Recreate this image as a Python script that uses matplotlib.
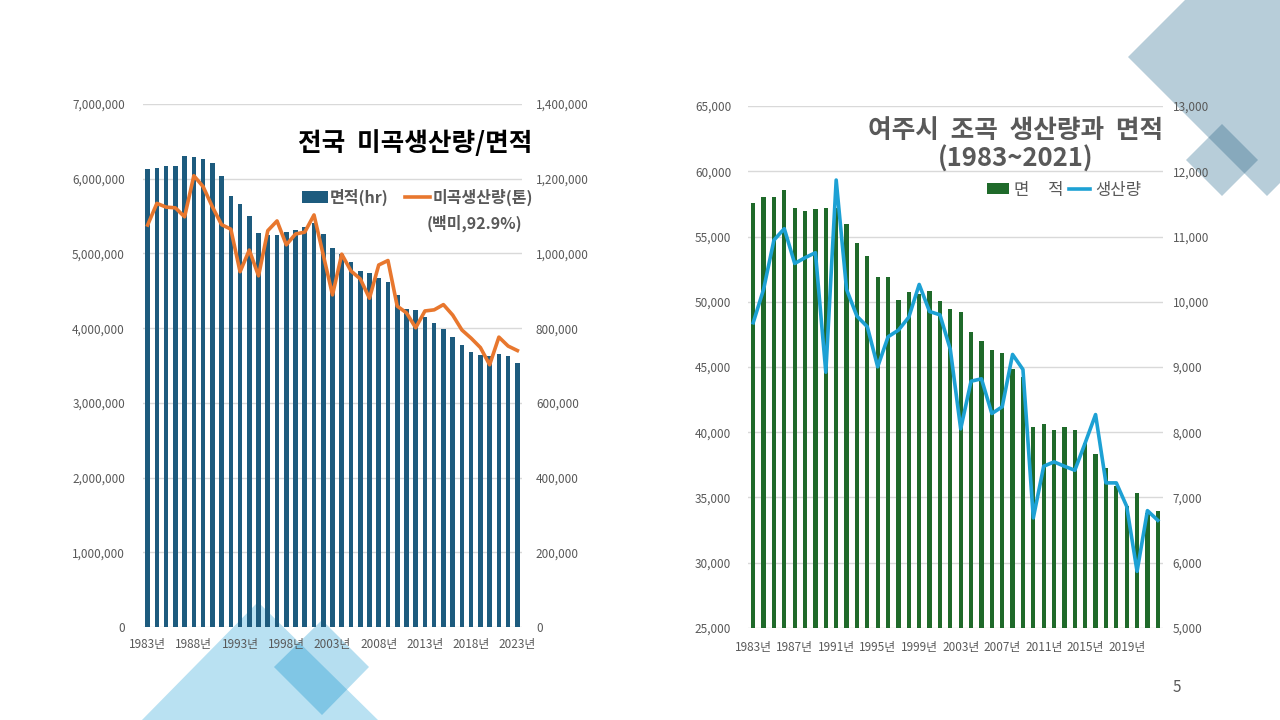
import matplotlib
matplotlib.use("Agg")
import matplotlib.pyplot as plt
from matplotlib.patches import Polygon
from matplotlib.ticker import FuncFormatter

plt.rcParams['font.family'] = ['Noto Sans CJK KR', 'DejaVu Sans']

# ---------------- data ----------------
nat_years = list(range(1983, 2024))
nat_area = [6130000, 6140000, 6170000, 6170000, 6300000, 6290000, 6260000, 6210000,
            6040000, 5770000, 5660000, 5500000, 5280000, 5240000, 5250000, 5290000,
            5310000, 5360000, 5410000, 5260000, 5070000, 4990000, 4890000, 4770000,
            4740000, 4670000, 4620000, 4450000, 4260000, 4240000, 4150000, 4070000,
            3990000, 3880000, 3770000, 3680000, 3640000, 3630000, 3660000, 3630000,
            3530000]
nat_prod = [1076000, 1134000, 1124000, 1122000, 1098000, 1208000, 1179000, 1125000,
            1077000, 1065000, 951000, 1009000, 940000, 1061000, 1087000, 1023000,
            1052000, 1057000, 1103000, 996000, 889000, 998000, 953000, 932000,
            880000, 969000, 981000, 859000, 841000, 801000, 846000, 849000,
            863000, 835000, 795000, 773000, 748000, 702000, 776000, 752000,
            740000]
nat_tick_labels = ['1983년', '1988년', '1993년', '1998년', '2003년', '2008년',
                   '2013년', '2018년', '2023년']

yj_years = list(range(1983, 2023))
yj_area = [57540, 58000, 58000, 58540, 57180, 56930, 57080, 57160, 57160, 55930,
           54470, 53470, 51860, 51920, 50120, 50740, 50560, 50810, 50040, 49410,
           49200, 47720, 47030, 46340, 46060, 44810, 44250, 40440, 40670, 40210,
           40440, 40210, 39190, 38370, 37270, 35860, 34320, 35370, 33820, 33940]
yj_prod = [9678, 10189, 10945, 11120, 10587, 10675, 10752, 8920, 11865, 10189,
           9779, 9617, 9003, 9463, 9565, 9764, 10265, 9850, 9800, 9270,
           8052, 8782, 8819, 8287, 8390, 9192, 8962, 6687, 7479, 7546,
           7479, 7417, 7837, 8271, 7224, 7224, 6865, 5868, 6799, 6650]
yj_tick_labels = ['1983년', '1987년', '1991년', '1995년', '1999년', '2003년',
                  '2007년', '2011년', '2015년', '2019년']

# ---------------- styles ----------------
W, H = 1280, 720
TXT = '#595959'
GRID = '#D9D9D9'
BAR1 = '#1D5B7E'
LINE1 = '#E8772E'
BAR2 = '#1F6A2A'
LINE2 = '#1DA1D4'

fig = plt.figure(figsize=(12.8, 7.2), dpi=100)
fig.patch.set_facecolor('white')

# ---------------- background decorations ----------------
bg = fig.add_axes([0, 0, 1, 1], zorder=0)
bg.set_xlim(0, W)
bg.set_ylim(H, 0)
bg.axis('off')

tri = Polygon([(258, 602), (140, 722), (380, 722)], closed=True,
              facecolor='#B9E1F2', edgecolor='none')
bg.add_patch(tri)
dia = Polygon([(322, 620), (369, 667), (322, 715), (274, 667)], closed=True,
              facecolor='#B5DEF0', edgecolor='none')
bg.add_patch(dia)
dia2 = Polygon([(322, 620), (369, 667), (322, 715), (274, 667)], closed=True,
               facecolor='#80C6E5', edgecolor='none')
bg.add_patch(dia2)
dia2.set_clip_path(tri)

big = Polygon([(1128, 57), (1267, -82), (1406, 57), (1267, 196)], closed=True,
              facecolor='#B7CDD9', edgecolor='none')
bg.add_patch(big)
small = Polygon([(1222, 124), (1258, 160), (1222, 196), (1186, 160)], closed=True,
                facecolor='#B7CDD9', edgecolor='none')
bg.add_patch(small)
small2 = Polygon([(1222, 124), (1258, 160), (1222, 196), (1186, 160)], closed=True,
                 facecolor='#87A9BC', edgecolor='none')
bg.add_patch(small2)
small2.set_clip_path(big)

fig.text(1177 / W, 1 - 688 / H, '5', ha='center', va='center', fontsize=11, color=TXT)


def fmt(v, p):
    return f'{int(round(v)):,}'


def style(ax, ax2):
    for a in (ax, ax2):
        for s in a.spines.values():
            s.set_visible(False)
        a.tick_params(length=0, labelsize=8.5, labelcolor=TXT)
    ax.yaxis.grid(True, color=GRID, linewidth=1)
    ax.set_axisbelow(True)
    ax.yaxis.set_major_formatter(FuncFormatter(fmt))
    ax2.yaxis.set_major_formatter(FuncFormatter(fmt))
    ax.set_facecolor('none')
    ax2.set_facecolor('none')


# ---------------- left chart ----------------
axL = fig.add_axes([143 / W, 1 - 627 / H, (522 - 143) / W, (627 - 104) / H], zorder=2)
axL2 = axL.twinx()
axL2.set_zorder(3)
xL = list(range(len(nat_years)))
barsL = axL.bar(xL, nat_area, width=0.5, color=BAR1, label='면적(hr)')
lineL, = axL2.plot(xL, nat_prod, color=LINE1, linewidth=2.6, label='미곡생산량(톤)',
                   solid_joinstyle='round')
axL.set_xlim(-0.5, len(nat_years) - 0.5)
axL.set_ylim(0, 7000000)
axL.set_yticks(range(0, 7000001, 1000000))
axL2.set_ylim(0, 1400000)
axL2.set_yticks(range(0, 1400001, 200000))
axL.set_xticks(xL[::5])
axL.set_xticklabels(nat_tick_labels)
style(axL, axL2)
axL.tick_params(axis='y', pad=13)
axL2.tick_params(axis='y', pad=10)
axL.tick_params(axis='x', pad=8)

fig.text(415 / W, 1 - 143 / H, '전국  미곡생산량/면적', ha='center', va='center',
         fontsize=18.5, fontweight='bold', color='black')
legL = axL2.legend(handles=[barsL, lineL], loc='center left',
                   bbox_to_anchor=(294 / W, 1 - 197 / H), bbox_transform=fig.transFigure,
                   ncol=2, frameon=False, borderpad=0, handlelength=1.6,
                   handleheight=0.75, handletextpad=0.15, columnspacing=1.0,
                   prop={'size': 11.5, 'weight': 'bold'})
for t in legL.get_texts():
    t.set_color(TXT)
fig.text(522 / W, 1 - 223 / H, '(백미,92.9%)', ha='right', va='center',
         fontsize=11.5, fontweight='bold', color=TXT)

# ---------------- right chart ----------------
axR = fig.add_axes([748 / W, 1 - 628 / H, (1163 - 748) / W, (628 - 106) / H], zorder=2)
axR2 = axR.twinx()
axR2.set_zorder(3)
xR = list(range(len(yj_years)))
barsR = axR.bar(xR, yj_area, width=0.4, color=BAR2, label='면     적')
lineR, = axR2.plot(xR, yj_prod, color=LINE2, linewidth=2.6, label='생산량',
                   solid_joinstyle='round')
axR.set_xlim(-0.5, len(yj_years) - 0.5)
axR.set_ylim(25000, 65000)
axR.set_yticks(range(25000, 65001, 5000))
axR2.set_ylim(5000, 13000)
axR2.set_yticks(range(5000, 13001, 1000))
axR.set_xticks(xR[::4])
axR.set_xticklabels(yj_tick_labels)
style(axR, axR2)
axR.tick_params(axis='y', pad=12)
axR2.tick_params(axis='y', pad=7)
axR.tick_params(axis='x', pad=9)

fig.text(1016 / W, 1 - 145 / H, '여주시  조곡  생산량과  면적\n(1983~2021)', ha='center',
         va='center', fontsize=18.5, fontweight='bold', color=TXT, linespacing=1.05)
legR = axR2.legend(handles=[barsR, lineR], loc='center left',
                   bbox_to_anchor=(979 / W, 1 - 190 / H), bbox_transform=fig.transFigure,
                   ncol=2, frameon=False, borderpad=0, handlelength=1.3,
                   handleheight=0.6, handletextpad=0.3, columnspacing=0.3,
                   prop={'size': 12})
for t in legR.get_texts():
    t.set_color(TXT)

fig.savefig('out.png', dpi=100, facecolor='white')
